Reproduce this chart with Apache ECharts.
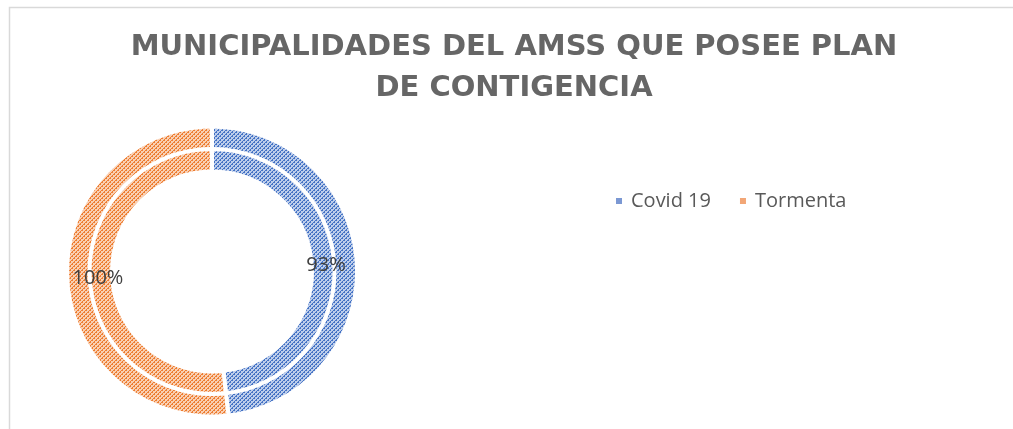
<!DOCTYPE html>
<html>
<head>
<meta charset="utf-8">
<script src="https://cdn.jsdelivr.net/npm/echarts@6/dist/echarts.min.js"></script>
<style>
  html, body { margin: 0; padding: 0; background: #fff; }
  #chart { width: 1013px; height: 429px; }
</style>
</head>
<body>
<div id="chart"></div>
<script>
// datos
const titleText = 'MUNICIPALIDADES DEL AMSS QUE POSEE PLAN\nDE CONTIGENCIA'
const categories = ['Covid 19', 'Tormenta']
const outerValues = [0.93, 1.0]
const innerValues = [0.93, 1.0]

// patrón rayado diagonal tipo Excel
const makeHatch = (bg, fg) => {
  const c = document.createElement('canvas')
  c.width = 4
  c.height = 4
  const ctx = c.getContext('2d')
  ctx.fillStyle = bg
  ctx.fillRect(0, 0, 4, 4)
  ctx.fillStyle = fg
  for (let x = 0; x < 4; x++) {
    for (let y = 0; y < 4; y++) {
      const d = (x + y) % 4
      if (d === 3 || (d === 0 && x % 2 === 0)) ctx.fillRect(x, y, 1, 1)
    }
  }
  return { image: c, repeat: 'repeat' }
}

const colors = [makeHatch('#bccdeb', '#4472c4'), makeHatch('#f9cfb2', '#ed7d31')]
const legendColors = ['#7b98d3', '#f2a676']

const chart = echarts.init(document.getElementById('chart'))

const buildData = (values) =>
  values.map((v, i) => ({
    name: categories[i],
    value: v,
    itemStyle: { color: colors[i] },
  }))

const option = {
  backgroundColor: '#fff',
  animation: false,
  title: {
    text: titleText,
    left: 514,
    top: 27,
    padding: 0,
    textAlign: 'center',
    textStyle: {
      fontFamily: 'DejaVu Sans',
      fontWeight: 'bold',
      fontSize: 29,
      lineHeight: 41,
      color: '#666666',
    },
  },
  legend: {
    data: categories.map((name, i) => ({
      name,
      itemStyle: { color: legendColors[i] },
    })),
    left: 614,
    top: 191,
    padding: 0,
    itemWidth: 8,
    itemHeight: 8,
    itemGap: 27,
    icon: 'rect',
    textStyle: {
      fontFamily: 'Open Sans',
      fontSize: 20,
      lineHeight: 20,
      color: '#595959',
      padding: [0, 0, 0, 3],
    },
  },
  graphic: [
    {
      type: 'rect',
      silent: true,
      shape: { x: 9.5, y: 7.5, width: 1100, height: 500 },
      style: { fill: 'none', stroke: '#d9d9d9', lineWidth: 1.5 },
    },
  ],
  series: [
    {
      name: 'Serie 1',
      type: 'pie',
      center: [212, 271.5],
      radius: [122, 145],
      startAngle: 90,
      clockwise: true,
      label: { show: false },
      labelLine: { show: false },
      itemStyle: { borderColor: '#fff', borderWidth: 4 },
      emphasis: { disabled: true },
      data: buildData(outerValues),
    },
    {
      name: 'Serie 2',
      type: 'pie',
      center: [212, 271.5],
      radius: [100, 122.5],
      startAngle: 90,
      clockwise: true,
      label: {
        show: true,
        position: 'inside',
        fontFamily: 'Open Sans',
        fontSize: 20,
        color: '#404040',
        formatter: (p) => Math.round(p.value * 100) + '%',
      },
      labelLine: { show: false },
      itemStyle: { borderColor: '#fff', borderWidth: 4 },
      emphasis: { disabled: true },
      data: buildData(innerValues),
    },
  ],
}

chart.setOption(option)
</script>
</body>
</html>
